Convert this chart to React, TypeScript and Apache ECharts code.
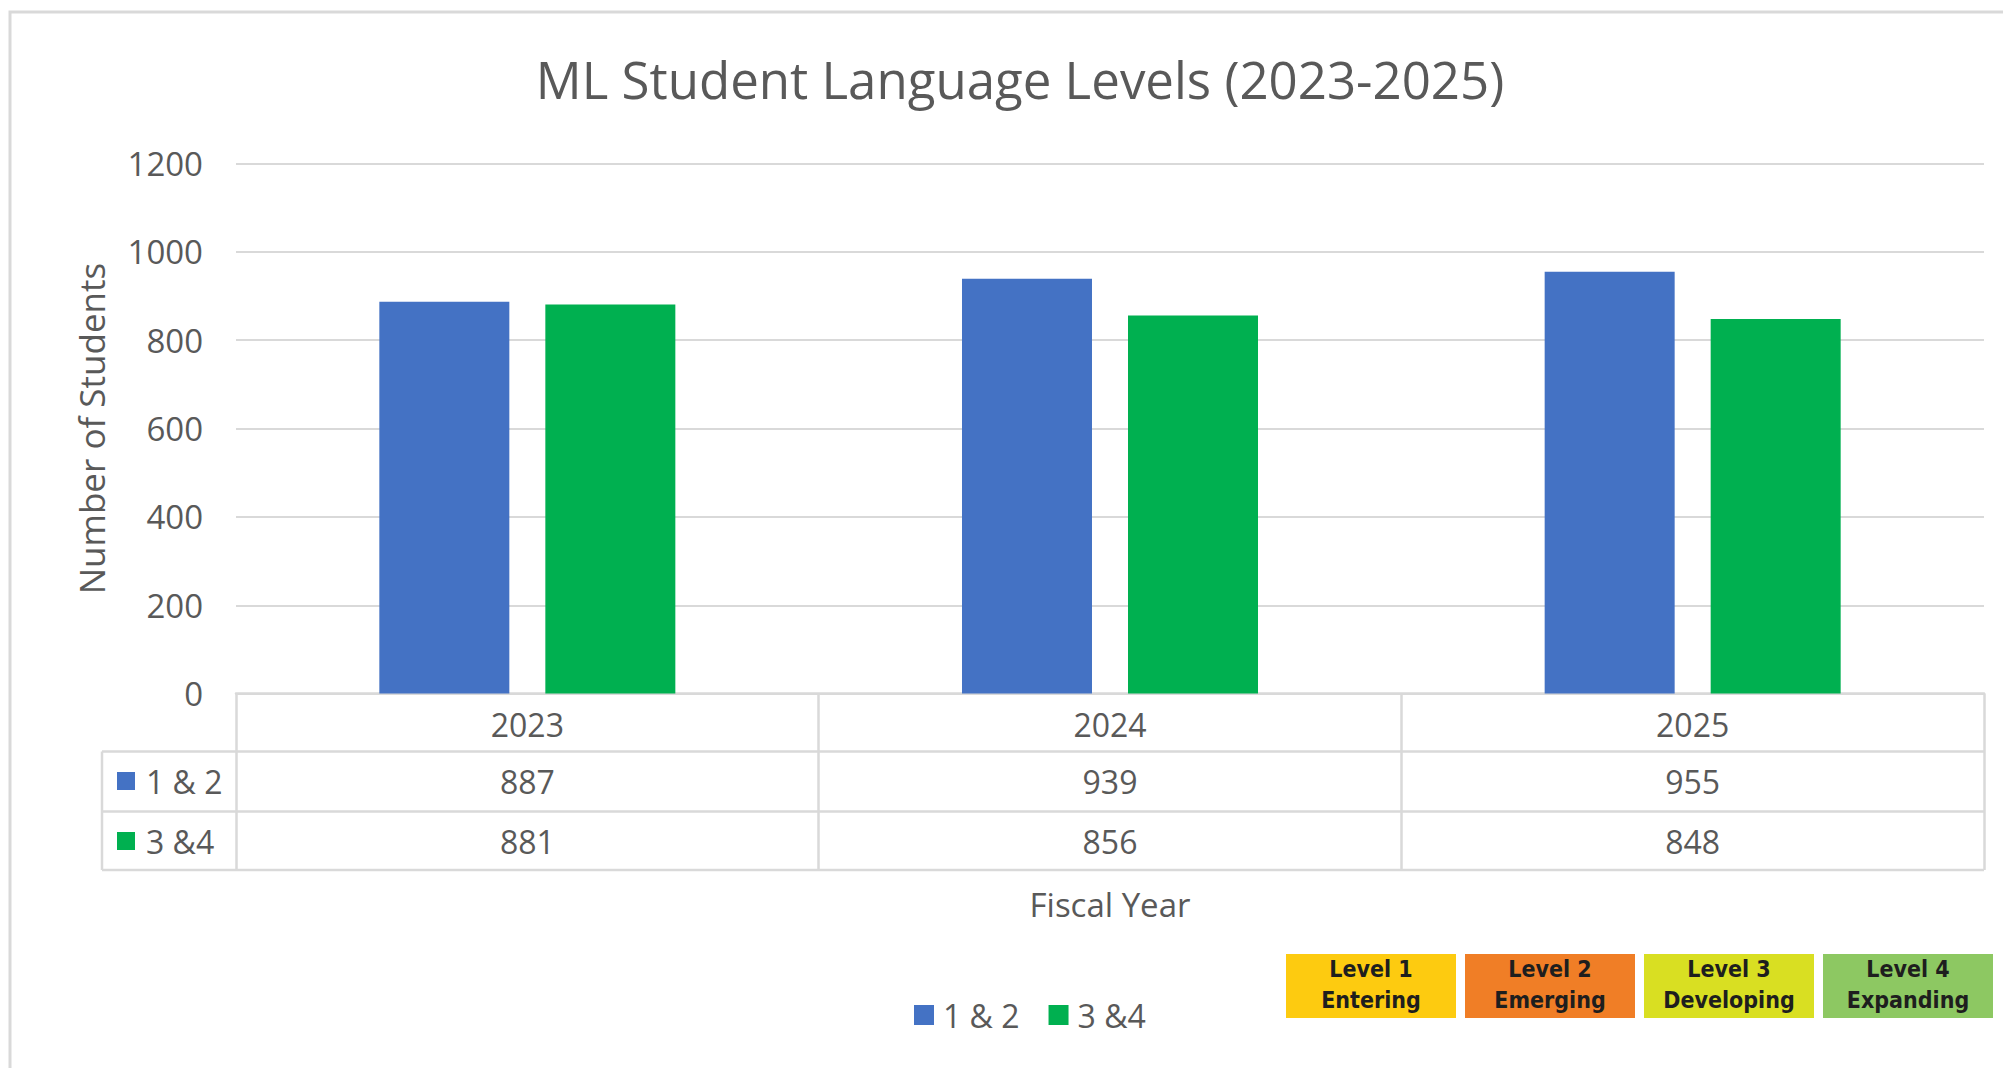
import React, { useEffect, useRef } from "react";
import * as echarts from "echarts";

const chartTitle = "ML Student Language Levels (2023-2025)";
const years = ["2023", "2024", "2025"];
const seriesNames = ["1 & 2", "3 &4"];
const levels12 = [887, 939, 955];
const levels34 = [881, 856, 848];
const yMin = 0;
const yMax = 1200;
const yInterval = 200;
const yAxisTitle = "Number of Students";
const xAxisTitle = "Fiscal Year";
const seriesColors = ["#4472C4", "#00B050"];
const levelTop = ["Level 1", "Level 2", "Level 3", "Level 4"];
const levelBottom = ["Entering", "Emerging", "Developing", "Expanding"];
const levelColors = ["#FDCB10", "#F07E26", "#D9DF22", "#8DC862"];

const FONT = "'Open Sans', 'DejaVu Sans', sans-serif";
const TXT = "#595959";
const LINE = "#d9d9d9";

export default function App() {
  const ref = useRef<HTMLDivElement>(null);

  useEffect(() => {
    const chart = echarts.init(ref.current!, null, { renderer: "svg" });

    const gridLeft = 236;
    const gridRight = 1984;
    const gridTop = 163.5;
    const gridBottom = 693.6;
    const tableLeft = 102;
    const rowLines = [751.5, 811.5, 870];
    const rowCenters = [781, 841];
    const seriesData = [levels12, levels34];

    const graphics: any[] = [
      {
        type: "rect",
        shape: { x: 10, y: 12, width: 2010, height: 1070 },
        style: { fill: "none", stroke: LINE, lineWidth: 3 },
        silent: true,
      },
      {
        type: "text",
        x: 1020,
        y: 79,
        style: {
          text: chartTitle,
          fill: TXT,
          font: `51px ${FONT}`,
          align: "center",
          verticalAlign: "middle",
        },
      },
    ];

    rowLines.forEach((y) => {
      graphics.push({
        type: "line",
        shape: { x1: tableLeft, y1: y, x2: gridRight, y2: y },
        style: { stroke: LINE, lineWidth: 2.5 },
        silent: true,
      });
    });
    graphics.push({
      type: "line",
      shape: { x1: tableLeft, y1: rowLines[0], x2: tableLeft, y2: rowLines[2] },
      style: { stroke: LINE, lineWidth: 2.5 },
      silent: true,
    });
    seriesNames.forEach((name, i) => {
      graphics.push({
        type: "rect",
        shape: { x: 117, y: rowCenters[i] - 9, width: 18, height: 18 },
        style: { fill: seriesColors[i] },
        silent: true,
      });
      graphics.push({
        type: "text",
        x: 146,
        y: rowCenters[i],
        style: {
          text: name,
          fill: TXT,
          font: `32px ${FONT}`,
          align: "left",
          verticalAlign: "middle",
        },
      });
    });

    const boxX0 = 1286;
    const boxW = 170;
    const boxGap = 9;
    const boxY = 954;
    const boxH = 64;
    const boxFont = `bold 23px 'Liberation Sans Narrow', 'DejaVu Sans Condensed', sans-serif`;
    levelTop.forEach((t, i) => {
      const x = boxX0 + i * (boxW + boxGap);
      graphics.push({
        type: "rect",
        shape: { x, y: boxY, width: boxW, height: boxH },
        style: { fill: levelColors[i] },
        silent: true,
      });
      graphics.push({
        type: "text",
        x: x + boxW / 2,
        y: 969,
        style: {
          text: t,
          fill: "#1e1e1e",
          font: boxFont,
          align: "center",
          verticalAlign: "middle",
        },
      });
      graphics.push({
        type: "text",
        x: x + boxW / 2,
        y: 1000,
        style: {
          text: levelBottom[i],
          fill: "#1e1e1e",
          font: boxFont,
          align: "center",
          verticalAlign: "middle",
        },
      });
    });

    const tableAxis = (idx: number, margin: number) => ({
      type: "category",
      data: years,
      position: "bottom",
      gridIndex: 0,
      axisLine: { show: false },
      axisTick: { show: false },
      splitLine: { show: false },
      axisLabel: {
        margin,
        verticalAlign: "middle",
        fontSize: 32,
        fontFamily: FONT,
        color: TXT,
        formatter: (_v: string, i: number) => String(seriesData[idx][i]),
      },
    });

    const option: any = {
      animation: false,
      backgroundColor: "#ffffff",
      textStyle: { fontFamily: FONT },
      grid: {
        left: gridLeft,
        right: 2003 - gridRight,
        top: gridTop,
        bottom: 1068 - gridBottom,
        containLabel: false,
      },
      legend: {
        data: seriesNames,
        left: 909,
        top: 994,
        itemWidth: 20,
        itemHeight: 20,
        itemGap: 29,
        icon: "rect",
        textStyle: {
          fontSize: 32,
          fontFamily: FONT,
          color: TXT,
          padding: [0, 0, 0, 4],
          lineHeight: 20,
        },
      },
      xAxis: [
        {
          type: "category",
          data: years,
          position: "bottom",
          axisLine: { show: true, lineStyle: { color: LINE, width: 2.5 } },
          axisTick: {
            show: true,
            interval: 0,
            alignWithLabel: false,
            length: rowLines[2] - gridBottom,
            lineStyle: { color: LINE, width: 2.5 },
          },
          axisLabel: {
            margin: 30.4,
            verticalAlign: "middle",
            fontSize: 32,
            fontFamily: FONT,
            color: TXT,
          },
          name: xAxisTitle,
          nameLocation: "middle",
          nameGap: 211,
          nameTextStyle: {
            fontSize: 33,
            fontFamily: FONT,
            color: TXT,
            verticalAlign: "middle",
          },
        },
        tableAxis(0, 87.4),
        tableAxis(1, 147.4),
      ],
      yAxis: {
        type: "value",
        min: yMin,
        max: yMax,
        interval: yInterval,
        axisLine: { show: false },
        axisTick: { show: false },
        splitLine: { lineStyle: { color: LINE, width: 2 } },
        axisLabel: {
          margin: 33,
          fontSize: 33,
          fontFamily: FONT,
          color: TXT,
          formatter: (v: number) => String(v),
        },
        name: yAxisTitle,
        nameLocation: "middle",
        nameGap: 127,
        nameTextStyle: {
          fontSize: 35,
          fontFamily: FONT,
          color: TXT,
        },
      },
      series: [
        {
          name: seriesNames[0],
          type: "bar",
          data: levels12,
          barWidth: 130,
          barGap: "27.7%",
          itemStyle: { color: seriesColors[0] },
        },
        {
          name: seriesNames[1],
          type: "bar",
          data: levels34,
          barWidth: 130,
          barGap: "27.7%",
          itemStyle: { color: seriesColors[1] },
        },
      ],
      graphic: graphics,
    };

    chart.setOption(option);
    return () => chart.dispose();
  }, []);

  return (
    <div
      ref={ref}
      style={{
        position: "absolute",
        left: 0,
        top: 0,
        width: 2003,
        height: 1068,
        background: "#ffffff",
      }}
    />
  );
}
